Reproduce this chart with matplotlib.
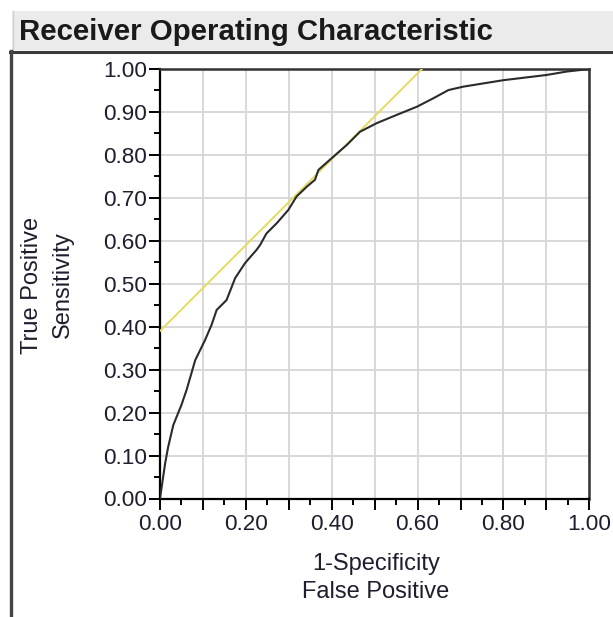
import matplotlib
matplotlib.use("Agg")
import matplotlib.pyplot as plt
from matplotlib.patches import Rectangle
from matplotlib.lines import Line2D
import numpy as np

# ---- data ----
roc_fpr = [0.0, 0.012, 0.019, 0.031, 0.05, 0.062, 0.082, 0.105, 0.12, 0.132, 0.155,
           0.175, 0.198, 0.225, 0.233, 0.248, 0.272, 0.299, 0.318, 0.342, 0.361,
           0.369, 0.404, 0.435, 0.466, 0.505, 0.551, 0.598, 0.637, 0.672, 0.707,
           0.80, 0.90, 0.947, 1.0]
roc_tpr = [0.0, 0.082, 0.12, 0.171, 0.218, 0.253, 0.322, 0.369, 0.404, 0.439, 0.462,
           0.513, 0.548, 0.579, 0.590, 0.617, 0.641, 0.672, 0.703, 0.726, 0.742,
           0.765, 0.796, 0.823, 0.854, 0.874, 0.893, 0.912, 0.932, 0.951, 0.959,
           0.974, 0.986, 0.994, 1.0]
tangent_x = [0.0, 0.61]
tangent_y = [0.39, 1.0]

x_ticks = [0.0, 0.1, 0.2, 0.3, 0.4, 0.5, 0.6, 0.7, 0.8, 0.9, 1.0]
x_ticklabels = ["0.00", "", "0.20", "", "0.40", "", "0.60", "", "0.80", "", "1.00"]
y_ticks = [0.0, 0.1, 0.2, 0.3, 0.4, 0.5, 0.6, 0.7, 0.8, 0.9, 1.0]
y_ticklabels = ["0.00", "0.10", "0.20", "0.30", "0.40", "0.50", "0.60", "0.70", "0.80", "0.90", "1.00"]
title = "Receiver Operating Characteristic"
xlabel_lines = ["1-Specificity", "False Positive"]
ylabel_lines = ["True Positive", "Sensitivity"]

plt.rcParams['font.family'] = ['Liberation Sans', 'DejaVu Sans']

W, H = 613, 617
fig = plt.figure(figsize=(W / 100, H / 100), dpi=100)
fig.patch.set_facecolor("white")

def fx(px):
    return px / W

def fy(py):
    return 1 - py / H

# title bar
fig.patches.append(Rectangle((fx(12), fy(50)), fx(613) - fx(12), fy(11) - fy(50),
                             transform=fig.transFigure, facecolor="#ebebeb",
                             edgecolor="none", zorder=0))
fig.lines.append(Line2D([fx(12.5), fx(12.5)], [fy(11), fy(50)], transform=fig.transFigure,
                        color="#d0d0d0", lw=1.0))
fig.lines.append(Line2D([fx(10), fx(613)], [fy(51.5), fy(51.5)], transform=fig.transFigure,
                        color="#3a3a3a", lw=2.2))
fig.lines.append(Line2D([fx(10.5), fx(10.5)], [fy(51), fy(617)], transform=fig.transFigure,
                        color="#444444", lw=2.4))
fig.text(fx(19), fy(40), title, fontsize=21.2, fontweight="bold", color="#1a1a1a",
         ha="left", va="baseline")

ax = fig.add_axes([fx(160), fy(498.5), fx(589.3) - fx(160), fy(69) - fy(498.5)])
ax.set_xlim(0, 1)
ax.set_ylim(0, 1)

ax.plot(tangent_x, tangent_y, color="#e3dc62", lw=1.4, zorder=3, clip_on=True)
ax.plot(roc_fpr, roc_tpr, color="#2b2b2b", lw=1.5, zorder=4)

ax.set_xticks(x_ticks)
ax.set_xticklabels(x_ticklabels)
ax.set_yticks(y_ticks)
ax.set_yticklabels(y_ticklabels)
ax.set_xticks(np.arange(0.05, 1.0, 0.1), minor=True)
ax.set_yticks(np.arange(0.05, 1.0, 0.1), minor=True)
ax.tick_params(which="major", direction="out", length=8, width=1.4, color="black",
               labelsize=16.2, labelcolor="#1e1e2e")
ax.tick_params(axis="y", which="major", pad=1.5)
ax.tick_params(axis="x", which="major", pad=3)
ax.tick_params(which="minor", direction="out", length=4.3, width=1.4, color="black")
ax.grid(True, which="major", color="#d6d6d6", lw=1.3)
ax.set_axisbelow(True)
for s in ["left", "bottom"]:
    ax.spines[s].set_linewidth(1.6)
    ax.spines[s].set_color("black")
for s in ["top", "right"]:
    ax.spines[s].set_linewidth(1.8)
    ax.spines[s].set_color("#333333")

# axis labels
fig.text(fx(376), fy(564), xlabel_lines[0], fontsize=17, color="#1e1e2e",
         ha="center", va="center")
fig.text(fx(376), fy(592.5), xlabel_lines[1], fontsize=17, color="#1e1e2e",
         ha="center", va="center")
fig.text(fx(31.5), fy(285), ylabel_lines[0], fontsize=17, color="#1e1e2e",
         ha="center", va="center", rotation=90)
fig.text(fx(62.5), fy(285), ylabel_lines[1], fontsize=17, color="#1e1e2e",
         ha="center", va="center", rotation=90)

fig.savefig("out.png", dpi=100, facecolor="white")
